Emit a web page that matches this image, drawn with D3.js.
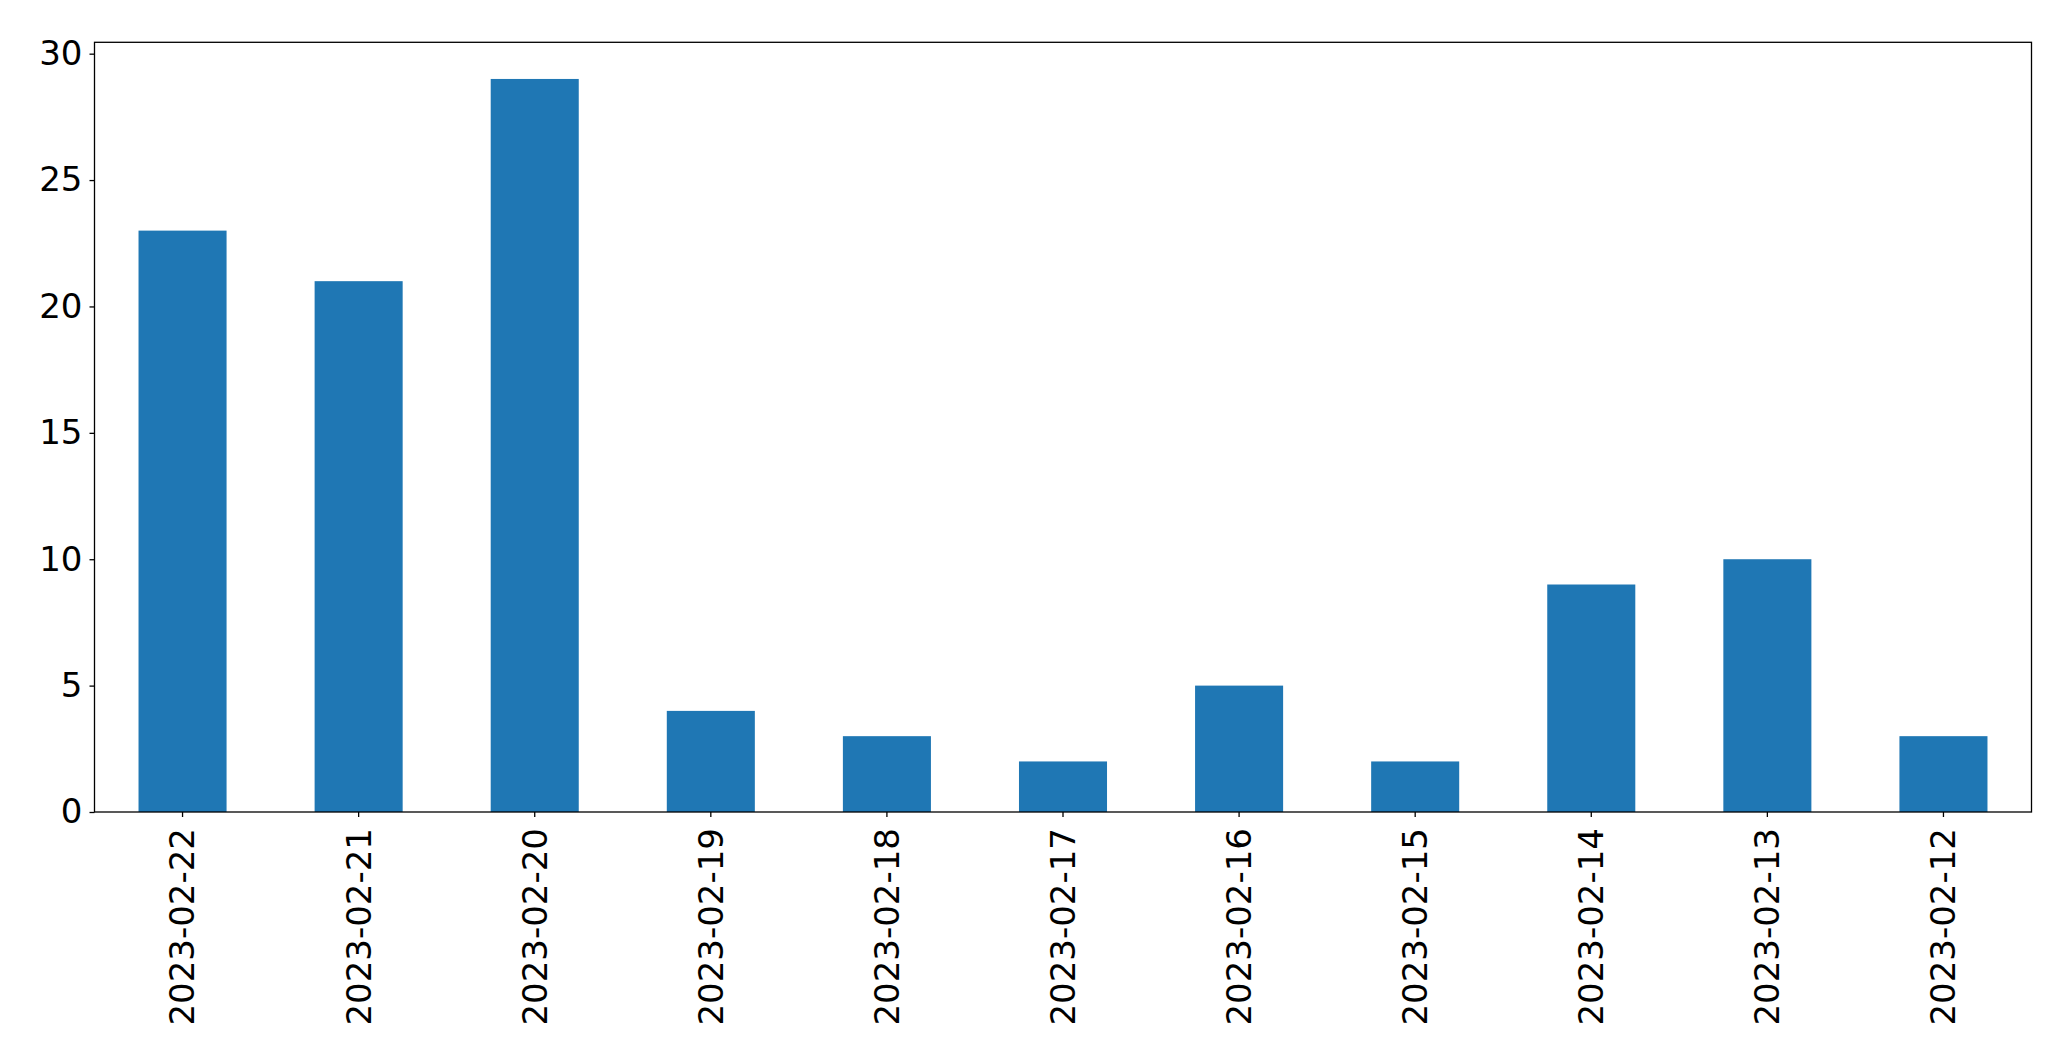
<!DOCTYPE html>
<html><head><meta charset="utf-8">
<script src="https://cdn.jsdelivr.net/npm/d3@7"></script>
<style>body{margin:0;background:#fff;} text{font-family:"DejaVu Sans";}</style>
</head><body>
<svg id="c" width="2071" height="1064"></svg>
<script>
const categories = ["2023-02-22","2023-02-21","2023-02-20","2023-02-19","2023-02-18","2023-02-17","2023-02-16","2023-02-15","2023-02-14","2023-02-13","2023-02-12"];
const values = [23,21,29,4,3,2,5,2,9,10,3];
const yTicks = [0,5,10,15,20,25,30];

const L=94.5, R=2031.5, T=42.3, B=812;
const svg = d3.select("#c");
const x = d3.scaleBand().domain(categories).range([L,R]).paddingInner(0.5).paddingOuter(0.25);
const y = d3.scaleLinear().domain([0,30.45]).range([B,T]);

svg.append("g").selectAll("rect").data(values).join("rect")
  .attr("x",(d,i)=>x(categories[i])).attr("width",x.bandwidth())
  .attr("y",d=>y(d)).attr("height",d=>B-y(d)).attr("fill","#1f77b4");

const fs = "34px";
const ya = svg.append("g").attr("transform",`translate(${L},0)`)
  .call(d3.axisLeft(y).tickValues(yTicks).tickSize(5).tickPadding(7).tickFormat(d3.format("d")));
ya.select(".domain").remove();
ya.selectAll("text").attr("font-size",fs).attr("font-family","DejaVu Sans").attr("fill","#000");
ya.selectAll("line").attr("stroke","#000").attr("stroke-width",1.3);

const xa = svg.append("g").attr("transform",`translate(0,${B})`)
  .call(d3.axisBottom(x).tickSize(5).tickPadding(0));
xa.select(".domain").remove();
xa.selectAll("line").attr("stroke","#000").attr("stroke-width",1.3);
xa.selectAll("text").attr("font-size",fs).attr("font-family","DejaVu Sans").attr("fill","#000")
  .attr("transform","rotate(-90)").attr("text-anchor","end").attr("dy","0.35em")
  .attr("x",-16).attr("y",0);

svg.append("rect").attr("x",L).attr("y",T).attr("width",R-L).attr("height",B-T)
  .attr("fill","none").attr("stroke","#000").attr("stroke-width",1.3);
</script>
</body></html>
